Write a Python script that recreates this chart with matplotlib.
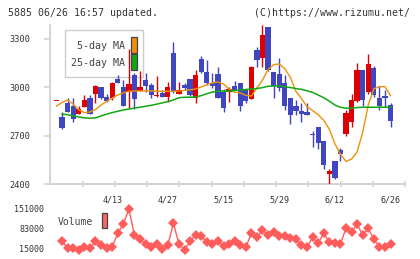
import numpy as np
import matplotlib
matplotlib.use("Agg")
import matplotlib.pyplot as plt
from matplotlib.patches import Rectangle

# ---- data ----
opens = [2917, 2814, 2901, 2884, 2833, 2880, 2934, 2958, 3002, 2940,
         2932, 3051, 3002, 2973, 3076, 2977, 3043, 3012, 2946, 2965,
         2942, 3212, 2960, 3014, 3051, 2932, 3175, 3095, 3027, 3082,
         2971, 2973, 3008, 3027, 2990, 2930, 3231, 3181, 3373, 3095,
         3082, 3027, 2934, 2886, 2855, 2847, 2710, 2754, 2668, 2465,
         2544, 2610, 2713, 2787, 2915, 3107, 2971, 3119, 2934, 2946, 2890]
highs = [2917, 2845, 2934, 2936, 2884, 2952, 2952, 3014, 3002, 2958,
         3033, 3076, 3045, 3237, 3090, 3100, 3090, 3025, 3072, 2983,
         3035, 3280, 3033, 3027, 3051, 3107, 3194, 3169, 3088, 3125,
         2990, 3004, 3039, 3027, 2990, 3132, 3250, 3386, 3373, 3095,
         3181, 3076, 2934, 2921, 2905, 2903, 2731, 2754, 2668, 2494,
         2544, 2625, 2859, 2958, 3150, 3107, 3206, 3132, 3008, 2983, 2902]
lows = [2917, 2740, 2845, 2787, 2831, 2876, 2837, 2905, 2930, 2909,
        2921, 3027, 2886, 2870, 2864, 2977, 2969, 2936, 2940, 2942,
        2911, 2963, 2958, 2983, 2948, 2905, 3090, 3014, 2996, 2936,
        2847, 2911, 2980, 2855, 2905, 2930, 3125, 3125, 3100, 2936,
        2979, 2859, 2769, 2830, 2787, 2830, 2632, 2620, 2490, 2403,
        2428, 2540, 2697, 2756, 2909, 2886, 2958, 2940, 2859, 2880, 2756]
closes = [2917, 2750, 2849, 2806, 2866, 2919, 2837, 3008, 2936, 2917,
          3027, 3028, 2886, 3020, 2930, 3002, 3010, 2954, 2954, 2942,
          3002, 2979, 2983, 2998, 2954, 3076, 3093, 3027, 3008, 2936,
          2874, 2990, 2983, 2886, 2917, 3125, 3171, 3323, 3107, 3008,
          2994, 2886, 2830, 2855, 2837, 2830, 2705, 2657, 2515, 2482,
          2440, 2589, 2841, 2921, 3107, 2921, 3144, 2952, 2886, 2936, 2793]
ma5 = [2884, 2905, 2921, 2895, 2860, 2843, 2846, 2862, 2890, 2912,
       2933, 2952, 2965, 2975, 2977, 2977, 2977, 2977, 2975, 2975,
       2975, 2975, 2977, 2980, 2984, 2989, 3002, 3016, 3027, 3033,
       3020, 2988, 2969, 2965, 2950, 2945, 2995, 3045, 3110, 3140,
       3145, 3115, 3062, 2975, 2930, 2880, 2855, 2830, 2795, 2740,
       2650, 2585, 2540, 2555, 2600, 2720, 2890, 2990, 3004, 3004, 2948]
ma25 = [np.nan, 2833, 2830, 2822, 2816, 2810, 2808, 2810, 2822, 2833,
        2843, 2851, 2859, 2865, 2871, 2876, 2882, 2888, 2895, 2903,
        2911, 2921, 2935, 2938, 2938, 2940, 2948, 2960, 2970, 2975,
        2977, 2977, 2980, 2983, 2986, 2989, 2992, 2998, 3006, 3008,
        3008, 3003, 2998, 2992, 2987, 2978, 2968, 2952, 2935, 2914,
        2890, 2876, 2870, 2870, 2874, 2876, 2876, 2876, 2876, 2876, 2876]
volumes = [np.nan, 42200, 17400, 19400, 11600, 20800, 17400, 42200, 28600, 17400,
           22800, 68400, 100000, 150000, 62600, 49000, 32000, 20800, 32000, 14000,
           28600, 102400, 32000, 11600, 42200, 62600, 59200, 37800, 31000, 42200,
           25200, 32000, 42200, 28600, 20800, 68400, 54800, 78600, 62600, 71800,
           59200, 59200, 51400, 48000, 28600, 20800, 54800, 34400, 68400, 37800,
           34400, 32000, 85400, 71800, 99000, 62600, 85400, 48000, 22800, 20800, 32000]
date_labels = ["4/13", "4/27", "5/15", "5/29", "6/12", "6/26"]
date_index = [10, 20, 30, 40, 50, 60]
price_ticks = [2400, 2700, 3000, 3300]
vol_ticks = [15000, 83000, 151000]

RED = "#dd0000"
BLUE = "#4046c0"
ORANGE = "#f0900a"
GREEN = "#10a810"
VOLC = "#ff5c5c"
AXC = "#d4d4d4"
TXT = "#333333"
MONO = "DejaVu Sans Mono"

fig = plt.figure(figsize=(4.2, 2.59), dpi=100)
W, H = 420, 259

def fr(x0, y0, x1, y1):
    return [x0 / W, 1 - y1 / H, (x1 - x0) / W, (y1 - y0) / H]

ax = fig.add_axes(fr(50, 25, 405, 184))
n = len(closes)
xs = np.arange(n)
o = np.array(opens, float); c = np.array(closes, float)
h = np.array(highs, float); l = np.array(lows, float)
up = c >= o
cols = np.where(up, RED, BLUE)

ax.vlines(xs, l, h, colors=cols, linewidth=1.0, zorder=3)
bottoms = np.minimum(o, c)
heights = np.maximum(np.abs(c - o), 7)
ax.bar(xs, heights, bottom=bottoms, width=0.95, color=cols, linewidth=0, zorder=4)

ax.plot(xs, ma5, color=ORANGE, linewidth=1.0, zorder=5)
ax.plot(xs, ma25, color=GREEN, linewidth=1.1, zorder=5)

ax.set_xlim(-1.17, 62.6)
ax.set_ylim(2400, 3386)
for s in ["top", "right"]:
    ax.spines[s].set_visible(False)
for s in ["left", "bottom"]:
    ax.spines[s].set_color(AXC)
    ax.spines[s].set_linewidth(1.4)
ax.set_yticks(price_ticks)
ax.set_yticklabels([str(v) for v in price_ticks], fontfamily=MONO, fontsize=6.2, color=TXT)
ax.tick_params(axis="y", length=4, width=1.2, color=AXC, pad=10)
ax.set_xticks(date_index)
ax.set_xticklabels(date_labels, fontfamily=MONO, fontsize=6.0, color=TXT)
ax.tick_params(axis="x", which="major", length=0, pad=8.5)
ax.set_xticks(np.arange(4.7, 63, 5.79), minor=True)
ax.tick_params(axis="x", which="minor", length=4, width=1.2, color=AXC, direction="inout")

# legend box (drawn beneath candles)
ax.add_patch(Rectangle((0.043, 0.671), 0.22, 0.2976, transform=ax.transAxes,
                       facecolor="white", edgecolor="#cccccc", linewidth=1.0, zorder=1))
ax.text(0.2113, 0.868, "5-day MA", transform=ax.transAxes, ha="right", va="center",
        fontfamily=MONO, fontsize=7.2, color="#444444", zorder=2)
ax.text(0.2113, 0.763, "25-day MA", transform=ax.transAxes, ha="right", va="center",
        fontfamily=MONO, fontsize=7.2, color="#444444", zorder=2)
ax.add_patch(Rectangle((0.228, 0.822), 0.018, 0.10, transform=ax.transAxes,
                       facecolor=ORANGE, edgecolor="#444444", linewidth=0.9, zorder=2))
ax.add_patch(Rectangle((0.228, 0.717), 0.018, 0.10, transform=ax.transAxes,
                       facecolor=GREEN, edgecolor="#444444", linewidth=0.9, zorder=2))

# volume panel
axv = fig.add_axes(fr(50, 200, 405, 256))
axv.plot(xs, volumes, color=VOLC, linewidth=1.0, marker="D", markersize=4.8,
         markeredgewidth=0, markerfacecolor=VOLC)
axv.set_xlim(-1.17, 62.6)
axv.set_ylim(-8800, 181600)
for s in axv.spines.values():
    s.set_visible(False)
axv.set_xticks([])
axv.set_yticks(vol_ticks)
axv.set_yticklabels([str(v) for v in vol_ticks], fontfamily=MONO, fontsize=6.0, color=TXT)
axv.tick_params(axis="y", length=0, pad=4)
axv.patch.set_alpha(0)

fig.text(58 / W, 1 - 222.3 / H, "Volume", ha="left", va="center",
         fontfamily=MONO, fontsize=7.0, color="#444444")
fig.patches.append(Rectangle((102 / W, 1 - 228 / H), 5 / W, 15 / H, transform=fig.transFigure,
                             facecolor="#ff6464", edgecolor="#444444", linewidth=0.9))

fig.text(8 / W, 1 - 12.5 / H, "5885 06/26 16:57 updated.", ha="left", va="center",
         fontfamily=MONO, fontsize=7.1, color=TXT)
fig.text(410 / W, 1 - 12.5 / H, "(C)https://www.rizumu.net/", ha="right", va="center",
         fontfamily=MONO, fontsize=7.1, color=TXT)

fig.savefig("out.png", dpi=100, facecolor="white")
